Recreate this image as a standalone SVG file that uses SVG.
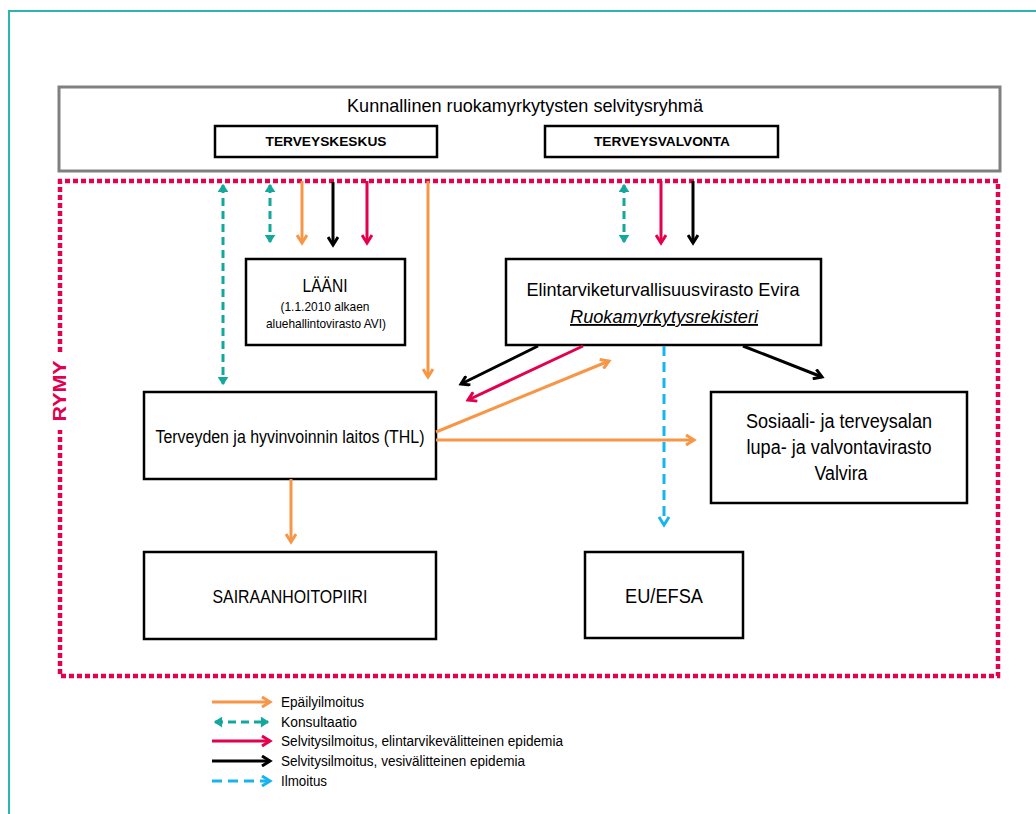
<svg xmlns="http://www.w3.org/2000/svg" width="1036" height="814" viewBox="0 0 1036 814">
<style>
text{font-family:"Liberation Sans",Arial,sans-serif;fill:#000}
.box{fill:#fff;stroke:#000;stroke-width:2.5}
.c{stroke-width:3;fill:none}
.o{stroke:#F79646}
.k{stroke:#000}
.r{stroke:#E2004F}
.t{stroke:#14A89C;stroke-dasharray:8 5}
.b{stroke:#18B4EE;stroke-dasharray:10 6}
.lg{font-size:14px}
</style>
<defs>
<marker id="mo" viewBox="0 0 12 12" refX="9" refY="6" markerWidth="12" markerHeight="12" markerUnits="userSpaceOnUse" orient="auto-start-reverse"><path d="M1,1 L9,6 L1,11" fill="none" stroke="#F79646" stroke-width="3"/></marker>
<marker id="mk" viewBox="0 0 12 12" refX="9" refY="6" markerWidth="12" markerHeight="12" markerUnits="userSpaceOnUse" orient="auto-start-reverse"><path d="M1,1 L9,6 L1,11" fill="none" stroke="#000" stroke-width="3"/></marker>
<marker id="mr" viewBox="0 0 12 12" refX="9" refY="6" markerWidth="12" markerHeight="12" markerUnits="userSpaceOnUse" orient="auto-start-reverse"><path d="M1,1 L9,6 L1,11" fill="none" stroke="#E2004F" stroke-width="3"/></marker>
<marker id="mt" viewBox="0 0 12 12" refX="9" refY="6" markerWidth="11" markerHeight="11" markerUnits="userSpaceOnUse" orient="auto-start-reverse"><path d="M2,1.5 L9,6 L2,10.5 Z" fill="#14A89C" stroke="#14A89C" stroke-width="1.5"/></marker>
<marker id="mb" viewBox="0 0 12 12" refX="9" refY="6" markerWidth="12" markerHeight="12" markerUnits="userSpaceOnUse" orient="auto-start-reverse"><path d="M1,1 L9,6 L1,11" fill="none" stroke="#18B4EE" stroke-width="3"/></marker>
</defs>
<rect width="1036" height="814" fill="#fff"/>
<path d="M9,814 V11 H1036" fill="none" stroke="#2BB5AE" stroke-width="2"/>

<g id="rymy">
<path d="M60,352 V181 H998 V676 H60 V430" fill="none" stroke="#E2004F" stroke-width="4.5" stroke-dasharray="5 3"/>
<text x="0" y="0" transform="translate(66,391) rotate(-90)" text-anchor="middle" font-weight="bold" font-size="19" style="fill:#E2004F" textLength="61" lengthAdjust="spacingAndGlyphs">RYMY</text>
</g>

<g id="selvitysryhma">
<rect x="59" y="87" width="941" height="84" fill="#fff" stroke="#808080" stroke-width="3"/>
<text x="525" y="112" text-anchor="middle" font-size="19" textLength="356" lengthAdjust="spacingAndGlyphs">Kunnallinen ruokamyrkytysten selvitysryhmä</text>
</g>
<g id="terveyskeskus">
<rect class="box" x="215" y="126" width="222" height="31"/>
<text x="326" y="146" text-anchor="middle" font-size="13.5" font-weight="bold" textLength="121" lengthAdjust="spacingAndGlyphs">TERVEYSKESKUS</text>
</g>
<g id="terveysvalvonta">
<rect class="box" x="545" y="126" width="233" height="31"/>
<text x="662" y="146" text-anchor="middle" font-size="13.5" font-weight="bold" textLength="136" lengthAdjust="spacingAndGlyphs">TERVEYSVALVONTA</text>
</g>

<g id="laani">
<rect class="box" x="246" y="259" width="159" height="86"/>
<text x="325" y="292" text-anchor="middle" font-size="19" textLength="45" lengthAdjust="spacingAndGlyphs">LÄÄNI</text>
<text x="325" y="311" text-anchor="middle" font-size="13" textLength="89" lengthAdjust="spacingAndGlyphs">(1.1.2010 alkaen</text>
<text x="326" y="328" text-anchor="middle" font-size="13" textLength="120" lengthAdjust="spacingAndGlyphs">aluehallintovirasto AVI)</text>
</g>

<g id="evira">
<rect class="box" x="506" y="259" width="315" height="86"/>
<text x="663" y="296" text-anchor="middle" font-size="18.5" textLength="273" lengthAdjust="spacingAndGlyphs">Elintarviketurvallisuusvirasto Evira</text>
<text x="664" y="323" text-anchor="middle" font-size="18.5" font-style="italic" text-decoration="underline" textLength="188" lengthAdjust="spacingAndGlyphs">Ruokamyrkytysrekisteri</text>
</g>

<g id="thl">
<rect class="box" x="144" y="392" width="292" height="87"/>
<text x="290" y="443" text-anchor="middle" font-size="17.5" textLength="269" lengthAdjust="spacingAndGlyphs">Terveyden ja hyvinvoinnin laitos (THL)</text>
</g>

<g id="valvira">
<rect class="box" x="711" y="392" width="256" height="111"/>
<text x="839" y="428" text-anchor="middle" font-size="19.5" textLength="186" lengthAdjust="spacingAndGlyphs">Sosiaali- ja terveysalan</text>
<text x="839" y="454" text-anchor="middle" font-size="19.5" textLength="185" lengthAdjust="spacingAndGlyphs">lupa- ja valvontavirasto</text>
<text x="841" y="480" text-anchor="middle" font-size="19.5" textLength="53" lengthAdjust="spacingAndGlyphs">Valvira</text>
</g>

<g id="sairaanhoitopiiri">
<rect class="box" x="144" y="552" width="292" height="87"/>
<text x="290" y="603" text-anchor="middle" font-size="17.5" textLength="155" lengthAdjust="spacingAndGlyphs">SAIRAANHOITOPIIRI</text>
</g>

<g id="eufsa">
<rect class="box" x="585" y="552" width="158" height="86"/>
<text x="664" y="603" text-anchor="middle" font-size="19.5" textLength="78" lengthAdjust="spacingAndGlyphs">EU/EFSA</text>
</g>

<g id="connectors">
<path class="c t" d="M223,185 V384" marker-start="url(#mt)" marker-end="url(#mt)"/>
<path class="c t" d="M270,185 V242" marker-start="url(#mt)" marker-end="url(#mt)"/>
<path class="c o" d="M302,181 V243" marker-end="url(#mo)"/>
<path class="c k" d="M333,182 V245" marker-end="url(#mk)"/>
<path class="c r" d="M367,181 V243" marker-end="url(#mr)"/>
<path class="c o" d="M428,181 V377" marker-end="url(#mo)"/>
<path class="c t" d="M624,185 V242" marker-start="url(#mt)" marker-end="url(#mt)"/>
<path class="c r" d="M661,181 V243" marker-end="url(#mr)"/>
<path class="c k" d="M693,181 V243" marker-end="url(#mk)"/>
<path class="c k" d="M538,346 L461,384" marker-end="url(#mk)"/>
<path class="c r" d="M583,346 L468,400" marker-end="url(#mr)"/>
<path class="c o" d="M436,432 L609,361" marker-end="url(#mo)"/>
<path class="c o" d="M436,440 L694,440" marker-end="url(#mo)"/>
<path class="c b" d="M664,346 V525" marker-end="url(#mb)"/>
<path class="c k" d="M743,346 L822,377" marker-end="url(#mk)"/>
<path class="c o" d="M291,479 V542" marker-end="url(#mo)"/>
</g>

<g id="legend">
<path class="c o" d="M212,702 H270" marker-end="url(#mo)"/>
<path class="c t" d="M215,722 H268" marker-start="url(#mt)" marker-end="url(#mt)"/>
<path class="c r" d="M212,741 H270" marker-end="url(#mr)"/>
<path class="c k" d="M212,761 H270" marker-end="url(#mk)"/>
<path class="c b" d="M212,781 H270" marker-end="url(#mb)"/>
<text class="lg" x="281" y="707" textLength="83" lengthAdjust="spacingAndGlyphs">Epäilyilmoitus</text>
<text class="lg" x="281" y="727" textLength="76" lengthAdjust="spacingAndGlyphs">Konsultaatio</text>
<text class="lg" x="281" y="746" textLength="282" lengthAdjust="spacingAndGlyphs">Selvitysilmoitus, elintarvikevälitteinen epidemia</text>
<text class="lg" x="281" y="766" textLength="244" lengthAdjust="spacingAndGlyphs">Selvitysilmoitus, vesivälitteinen epidemia</text>
<text class="lg" x="281" y="786" textLength="46" lengthAdjust="spacingAndGlyphs">Ilmoitus</text>
</g>
</svg>
